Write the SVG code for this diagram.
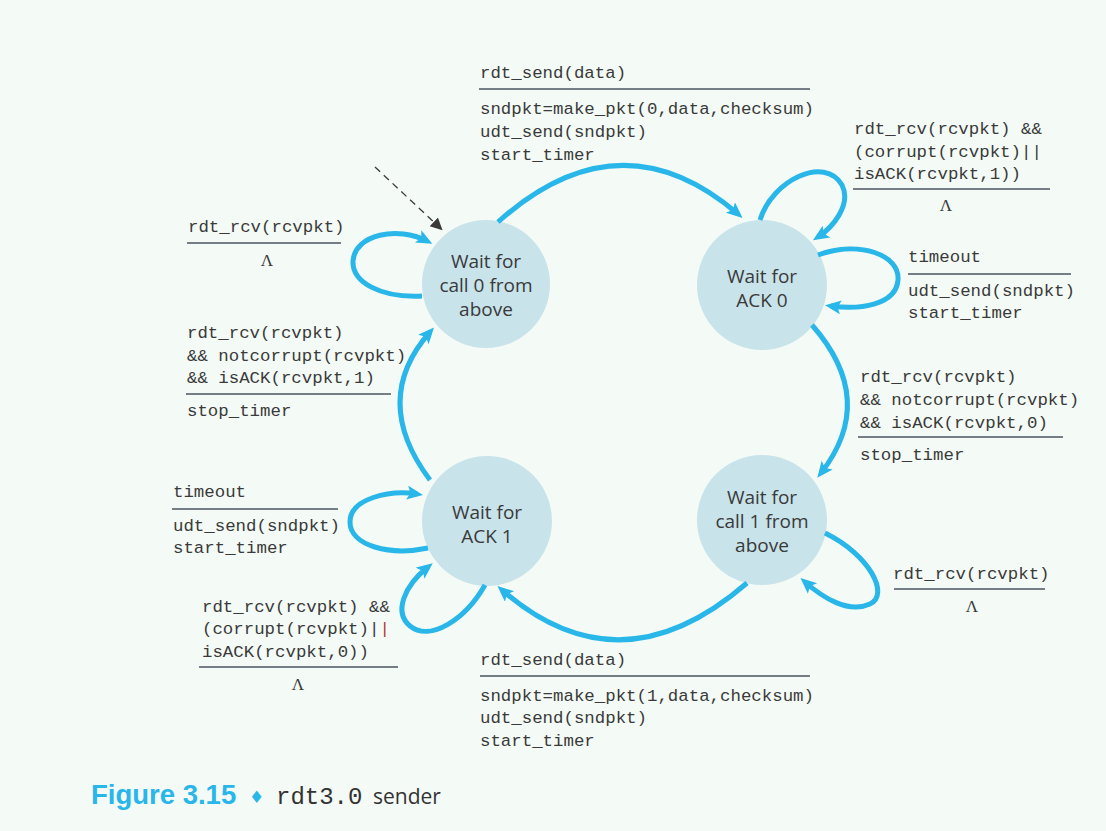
<svg xmlns="http://www.w3.org/2000/svg" width="1106" height="831" viewBox="0 0 1106 831">
<defs>
<style>
.bg{fill:#f4faf6}
.state{fill:#c8e3ea}
.st{font-family:"Open Sans","Liberation Sans",sans-serif;font-size:19px;fill:#3a3a3a;text-anchor:middle}
.m{font-family:"Liberation Mono","DejaVu Sans Mono",monospace;font-size:17.4px;fill:#3a3a3a}
.lam{font-family:"Liberation Serif",serif;font-size:17px;fill:#3a3a3a;text-anchor:middle}
.rule{stroke:#4a545e;stroke-width:1.6}
.arc{fill:none;stroke:#29b6e9;stroke-width:5}
.init{fill:none;stroke:#3a3a3a;stroke-width:1.3;stroke-dasharray:7 5}
.red{fill:#b0392b}
</style>
<marker id="ah" markerUnits="userSpaceOnUse" markerWidth="18" markerHeight="16" refX="10" refY="7" orient="auto">
<path d="M0,0 L16,7 L0,14 L3.5,7 z" fill="#29b6e9"/>
</marker>
<marker id="ahd" markerUnits="userSpaceOnUse" markerWidth="14" markerHeight="14" refX="3" refY="6" orient="auto">
<path d="M0,0 L12,6 L0,12 z" fill="#3a3a3a"/>
</marker>
</defs>
<rect class="bg" x="0" y="0" width="1106" height="831"/>

<g id="call0">
<circle class="state" cx="486" cy="284" r="64"/>
<text class="st" x="486" y="268">Wait for</text>
<text class="st" x="486" y="292">call 0 from</text>
<text class="st" x="486" y="316">above</text>
</g>
<g id="ack0">
<circle class="state" cx="762" cy="285" r="65"/>
<text class="st" x="762" y="283">Wait for</text>
<text class="st" x="762" y="307">ACK 0</text>
</g>
<g id="ack1">
<circle class="state" cx="487" cy="521" r="65"/>
<text class="st" x="487" y="519">Wait for</text>
<text class="st" x="487" y="543">ACK 1</text>
</g>
<g id="call1">
<circle class="state" cx="762" cy="520" r="65"/>
<text class="st" x="762" y="504">Wait for</text>
<text class="st" x="762" y="528">call 1 from</text>
<text class="st" x="762" y="552">above</text>
</g>

<g id="connectors">
<path class="init" d="M375,167 L436,224" marker-end="url(#ahd)"/>
<path class="arc" d="M498,222 Q620,113 738,214" marker-end="url(#ah)"/>
<path class="arc" d="M760,220 C772,180 825,155 842,185 C852,205 832,228 818,237" marker-end="url(#ah)"/>
<path class="arc" d="M818,255 C860,240 900,255 898,280 C896,305 860,310 831,306" marker-end="url(#ah)"/>
<path class="arc" d="M812,325 Q878,400 821,473" marker-end="url(#ah)"/>
<path class="arc" d="M825,533 C870,555 890,595 870,604 C848,614 822,597 805,582" marker-end="url(#ah)"/>
<path class="arc" d="M747,583 Q620,693 502,590" marker-end="url(#ah)"/>
<path class="arc" d="M485,585 C465,620 430,642 410,626 C393,612 405,585 428,567" marker-end="url(#ah)"/>
<path class="arc" d="M428,548 C390,556 350,546 350,522 C350,498 390,490 417,494" marker-end="url(#ah)"/>
<path class="arc" d="M430,480 Q370,400 430,332" marker-end="url(#ah)"/>
<path class="arc" d="M422,296 C380,298 352,282 353,261 C355,234 398,226 427,241" marker-end="url(#ah)"/>
</g>

<g id="labels">
<text class="m" x="480" y="78">rdt_send(data)</text>
<line class="rule" x1="479" y1="89" x2="810" y2="89"/>
<text class="m" x="480" y="114">sndpkt=make_pkt(0,data,checksum)</text>
<text class="m" x="480" y="137">udt_send(sndpkt)</text>
<text class="m" x="480" y="160">start_timer</text>

<text class="m" x="854" y="134">rdt_rcv(rcvpkt) &amp;&amp;</text>
<text class="m" x="854" y="157">(corrupt(rcvpkt)||</text>
<text class="m" x="854" y="179">isACK(rcvpkt,1))</text>
<line class="rule" x1="853" y1="189" x2="1050" y2="189"/>
<text class="lam" x="946" y="211">Λ</text>

<text class="m" x="908" y="262">timeout</text>
<line class="rule" x1="908" y1="274" x2="1071" y2="274"/>
<text class="m" x="908" y="296">udt_send(sndpkt)</text>
<text class="m" x="908" y="318">start_timer</text>

<text class="m" x="188" y="232">rdt_rcv(rcvpkt)</text>
<line class="rule" x1="187" y1="243" x2="341" y2="243"/>
<text class="lam" x="267" y="266">Λ</text>

<text class="m" x="187" y="338">rdt_rcv(rcvpkt)</text>
<text class="m" x="187" y="361">&amp;&amp; notcorrupt(rcvpkt)</text>
<text class="m" x="187" y="383">&amp;&amp; isACK(rcvpkt,1)</text>
<line class="rule" x1="186" y1="394" x2="391" y2="394"/>
<text class="m" x="187" y="416">stop_timer</text>

<text class="m" x="860" y="382">rdt_rcv(rcvpkt)</text>
<text class="m" x="860" y="405">&amp;&amp; notcorrupt(rcvpkt)</text>
<text class="m" x="860" y="428">&amp;&amp; isACK(rcvpkt,0)</text>
<line class="rule" x1="858" y1="437" x2="1063" y2="437"/>
<text class="m" x="860" y="460">stop_timer</text>

<text class="m" x="173" y="497">timeout</text>
<line class="rule" x1="172" y1="509" x2="338" y2="509"/>
<text class="m" x="173" y="531">udt_send(sndpkt)</text>
<text class="m" x="173" y="553">start_timer</text>

<text class="m" x="202" y="612">rdt_rcv(rcvpkt) &amp;&amp;</text>
<text class="m" x="202" y="634">(corrupt(rcvpkt)|<tspan class="red">|</tspan></text>
<text class="m" x="202" y="657">isACK(rcvpkt,0))</text>
<line class="rule" x1="199" y1="667" x2="398" y2="667"/>
<text class="lam" x="298" y="690">Λ</text>

<text class="m" x="480" y="665">rdt_send(data)</text>
<line class="rule" x1="480" y1="676" x2="810" y2="676"/>
<text class="m" x="480" y="701">sndpkt=make_pkt(1,data,checksum)</text>
<text class="m" x="480" y="723">udt_send(sndpkt)</text>
<text class="m" x="480" y="746">start_timer</text>

<text class="m" x="893" y="579">rdt_rcv(rcvpkt)</text>
<line class="rule" x1="894" y1="589" x2="1045" y2="589"/>
<text class="lam" x="972" y="612">Λ</text>
</g>

<g id="caption">
<text x="91" y="804" font-family="'Liberation Sans',Arial,sans-serif" font-weight="bold" font-size="27.5" fill="#29b6e9">Figure 3.15</text>
<text x="249" y="803" font-family="'DejaVu Sans',sans-serif" font-size="17" fill="#29b6e9">♦</text>
<text x="276" y="804" font-family="'Liberation Mono',monospace" font-size="24" fill="#333">rdt3.0</text>
<text x="373" y="804" font-family="'Open Sans','Liberation Sans',sans-serif" font-size="21" fill="#333">sender</text>
</g>
</svg>
